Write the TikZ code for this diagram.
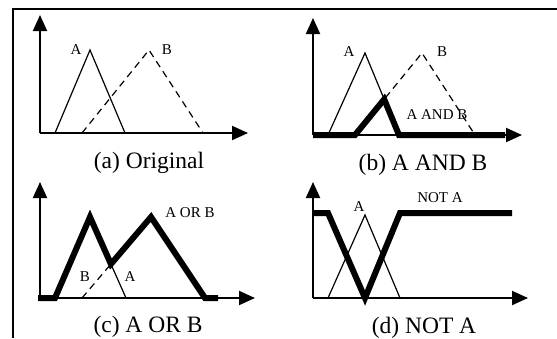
\documentclass[tikz,border=0pt]{standalone}
\usepackage{fontspec}
\setmainfont{Liberation Serif}
\usetikzlibrary{arrows.meta}

\begin{document}
\begin{tikzpicture}[x=1pt,y=1pt,
        asse/.style={line width=2pt,-{Triangle[length=16pt,width=14pt]}},
        insA/.style={line width=1.2pt},
        insB/.style={line width=1.2pt,dash pattern=on 7pt off 5pt},
        risultato/.style={line width=6pt},
        etichetta/.style={font=\fontsize{15}{17}\selectfont,inner sep=0pt},
        didascalia/.style={font=\fontsize{23.5}{28}\selectfont,inner sep=0pt,anchor=base}]
        \useasboundingbox (0,0) rectangle (557,-338);
        %cornice
        \draw[line width=2pt] (13,-338) -- (13,-9) -- (557,-9);
        %(a) insiemi originali
        \begin{scope}[shift={(40,-133)}]
            \draw[insA] (15,0) -- (50,83) -- (85,0);
            \draw[insB] (42,0) -- (109,83) -- (163,0);
            \draw[asse] (0,0) -- (0,118);
            \draw[asse] (0,0) -- (208,0);
            \node[etichetta] (a-A) at (36,83) {A};
            \node[etichetta] (a-B) at (127,83) {B};
        \end{scope}
        \node[didascalia] (cap-a) at (149,-168) {(a) Original};
        %(b) intersezione
        \begin{scope}[shift={(313,-135)}]
            \coordinate (b-A0) at (15,0);
            \coordinate (b-A1) at (52,82);
            \coordinate (b-A2) at (86,0);
            \coordinate (b-B0) at (42,0);
            \coordinate (b-B1) at (109,82);
            \coordinate (b-B2) at (162,0);
            \draw[insA] (b-A0) -- (b-A1) -- (b-A2);
            \draw[insB] (b-B0) -- (b-B1) -- (b-B2);
            \draw[asse] (0,0) -- (0,117);
            \draw[asse] (0,0) -- (209,0);
            \draw[risultato] (0,0) -- (b-B0) -- (intersection of b-A1--b-A2 and b-B0--b-B1) -- (b-A2) -- (192,0);
            \node[etichetta] (b-A) at (36,83) {A};
            \node[etichetta] (b-B) at (129,83) {B};
            \node[etichetta] (b-AB) at (124,20) {A AND B};
        \end{scope}
        \node[didascalia] (cap-b) at (423,-170) {(b) A AND B};
        %(c) unione
        \begin{scope}[shift={(40,-298)}]
            \coordinate (c-A0) at (15,0);
            \coordinate (c-A1) at (50,81);
            \coordinate (c-A2) at (86,0);
            \coordinate (c-B0) at (42,0);
            \coordinate (c-B1) at (111,81);
            \coordinate (c-B2) at (165,0);
            \draw[insA] (c-A0) -- (c-A1) -- (c-A2);
            \draw[insB] (c-B0) -- (c-B1) -- (c-B2);
            \draw[asse] (0,0) -- (0,116);
            \draw[asse] (0,0) -- (215,0);
            \draw[risultato] (-2,0) -- (c-A0) -- (c-A1) -- (intersection of c-A1--c-A2 and c-B0--c-B1) -- (c-B1) -- (c-B2) -- (178,0);
            \node[etichetta] (c-AB) at (150,85) {A OR B};
            \node[etichetta] (c-B) at (45,21) {B};
            \node[etichetta] (c-A) at (90,21) {A};
        \end{scope}
        \node[didascalia] (cap-c) at (148,-332) {(c) A OR B};
        %(d) complemento
        \begin{scope}[shift={(313,-298)}]
            \draw[insA] (15,0) -- (52,83) -- (87,0);
            \draw[asse] (0,0) -- (0,116);
            \draw[asse] (0,0) -- (215,0);
            \draw[risultato] (0,85) -- (15,85) -- (52,0) -- (87,85) -- (199,85);
            \node[etichetta] (d-A) at (46,91) {A};
            \node[etichetta] (d-notA) at (127,100) {NOT A};
        \end{scope}
        \node[didascalia] (cap-d) at (424,-333) {(d) NOT A};
\end{tikzpicture}
\end{document}
